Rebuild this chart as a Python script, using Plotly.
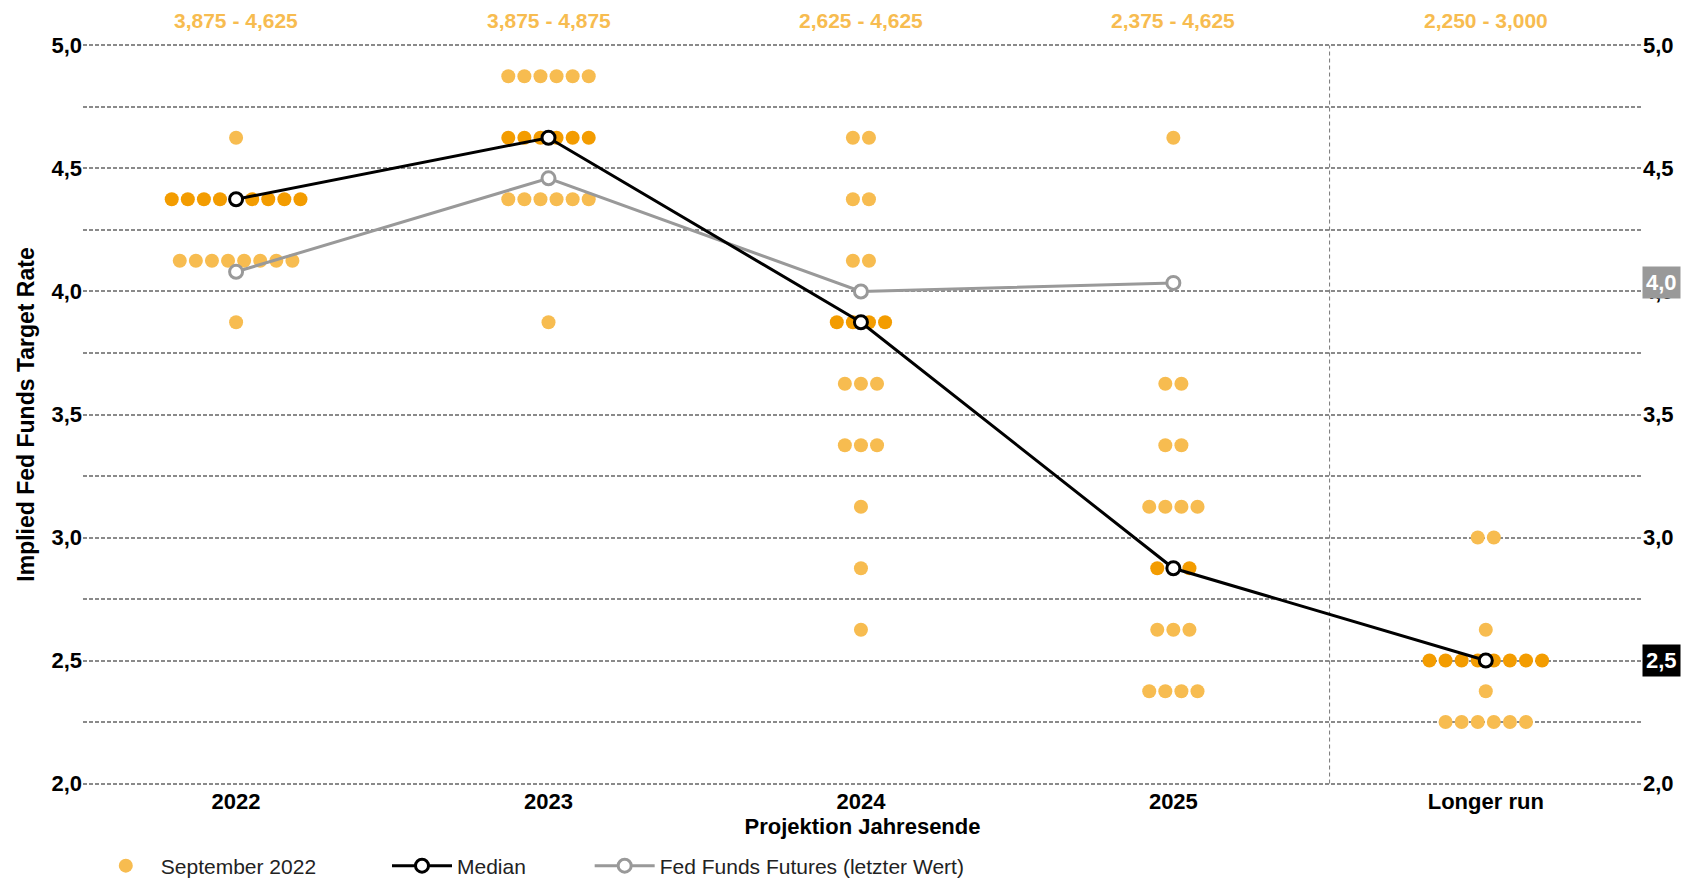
import plotly.graph_objects as go

# ── data ──────────────────────────────────────────────────────────────────────

categories = ["2022", "2023", "2024", "2025", "Longer run"]
range_labels = ["3,875 - 4,625", "3,875 - 4,875", "2,625 - 4,625", "2,375 - 4,625", "2,250 - 3,000"]

# FOMC dot plot, September 2022: rate level -> number of participants
dots_2022 = {4.625: 1, 4.375: 9, 4.125: 8, 3.875: 1}
dots_2023 = {4.875: 6, 4.625: 6, 4.375: 6, 3.875: 1}
dots_2024 = {4.625: 2, 4.375: 2, 4.125: 2, 3.875: 4, 3.625: 3, 3.375: 3,
             3.125: 1, 2.875: 1, 2.625: 1}
dots_2025 = {4.625: 1, 3.625: 2, 3.375: 2, 3.125: 4, 2.875: 3, 2.625: 3, 2.375: 4}
dots_lr = {3.0: 2, 2.625: 1, 2.5: 8, 2.375: 1, 2.25: 6}
dot_counts = [dots_2022, dots_2023, dots_2024, dots_2025, dots_lr]

median = [4.375, 4.625, 3.875, 2.875, 2.5]
futures = [4.08, 4.46, 4.0, 4.035]

y_tickvals = [2.0, 2.25, 2.5, 2.75, 3.0, 3.25, 3.5, 3.75, 4.0, 4.25, 4.5, 4.75, 5.0]
y_ticktext = ["2,0", "", "2,5", "", "3,0", "", "3,5", "", "4,0", "", "4,5", "", "5,0"]

# ── style ─────────────────────────────────────────────────────────────────────

LIGHT = "#F7BC50"
DARK = "#F39C00"
GREY = "#999999"
GRID = "#8a8a8a"
FONT = "Liberation Sans, Arial, sans-serif"
STEP = 0.0515   # horizontal spacing of dots in category units

# ── dot positions (centred swarm per rate level) ─────────────────────────────

lx, ly, dx, dy = [], [], [], []
for i, counts in enumerate(dot_counts):
    for level, n in counts.items():
        for k in range(n):
            x = i + (k - (n - 1) / 2) * STEP
            if level == median[i]:
                dx.append(x)
                dy.append(level)
            else:
                lx.append(x)
                ly.append(level)

fig = go.Figure()

fig.add_trace(go.Scatter(
    x=lx, y=ly, mode="markers", name="September 2022",
    marker=dict(size=14, color=LIGHT), legend="legend",
))
fig.add_trace(go.Scatter(
    x=dx, y=dy, mode="markers", showlegend=False,
    marker=dict(size=14, color=DARK),
))
fig.add_trace(go.Scatter(
    x=list(range(len(futures))), y=futures, mode="lines+markers",
    name="Fed Funds Futures (letzter Wert)", legend="legend3",
    line=dict(color=GREY, width=3),
    marker=dict(size=13, color="white", line=dict(color=GREY, width=3)),
))
fig.add_trace(go.Scatter(
    x=list(range(len(median))), y=median, mode="lines+markers",
    name="Median", legend="legend2",
    line=dict(color="black", width=3),
    marker=dict(size=13, color="white", line=dict(color="black", width=3)),
))
# invisible trace to drive the right-hand axis
fig.add_trace(go.Scatter(x=[0], y=[2.0], yaxis="y2", mode="markers",
                         marker=dict(opacity=0), showlegend=False, hoverinfo="skip"))

# separator before "Longer run"
fig.add_shape(type="line", xref="x", yref="y", x0=3.5, x1=3.5, y0=2.0, y1=5.0,
              line=dict(color="#777777", width=1, dash="4px,3px"), layer="below")

# range labels above each column
for i, txt in enumerate(range_labels):
    fig.add_annotation(x=i, y=1.0, xref="x", yref="paper", yanchor="middle", yshift=23,
                       text=txt, showarrow=False,
                       font=dict(family=FONT, size=21, color=LIGHT, weight="bold"))

# value boxes on the right axis
fig.add_annotation(x=1.0, xref="paper", y=futures[-1], yref="y", xanchor="left",
                   text=f"{futures[-1]:.1f}".replace(".", ","), showarrow=False,
                   bgcolor=GREY, borderpad=3,
                   font=dict(family=FONT, size=22, color="white", weight="bold"))
fig.add_annotation(x=1.0, xref="paper", y=median[-1], yref="y", xanchor="left",
                   text=f"{median[-1]:.1f}".replace(".", ","), showarrow=False,
                   bgcolor="black", borderpad=3,
                   font=dict(family=FONT, size=22, color="white", weight="bold"))

axis_font = dict(family=FONT, size=22, color="black", weight="bold")
legend_common = dict(orientation="h", yref="container", yanchor="middle", y=0.017,
                     xanchor="left", font=dict(family=FONT, size=21, color="#222222"),
                     bgcolor="rgba(0,0,0,0)", itemwidth=60)

fig.update_layout(
    width=1682, height=881,
    margin=dict(l=83, r=40, t=43, b=95),
    plot_bgcolor="white", paper_bgcolor="white",
    font=dict(family=FONT),
    xaxis=dict(
        range=[-0.49, 4.5], tickvals=list(range(len(categories))), ticktext=categories,
        showgrid=False, zeroline=False, showline=False, tickfont=axis_font,
        automargin=False,
        title=dict(text="Projektion Jahresende", font=axis_font, standoff=2),
    ),
    yaxis=dict(
        range=[1.99, 5.01], tickvals=y_tickvals, ticktext=y_ticktext,
        showgrid=True, gridcolor=GRID, gridwidth=1.5, griddash="4px,2px",
        zeroline=False, showline=False, tickfont=axis_font, automargin=False,
        title=dict(text="Implied Fed Funds Target Rate",
                   font=dict(family=FONT, size=23, color="black", weight="bold"), standoff=10),
    ),
    yaxis2=dict(
        range=[1.99, 5.01], tickvals=y_tickvals, ticktext=y_ticktext,
        overlaying="y", side="right", showgrid=False, zeroline=False,
        showline=False, tickfont=axis_font, automargin=False,
    ),
    legend=dict(x=0.005, **legend_common),
    legend2=dict(x=0.195, **legend_common),
    legend3=dict(x=0.325, **legend_common),
    showlegend=True,
)

fig.write_html("out.html", config={"displayModeBar": False},
               post_script="document.body.style.margin='0';")
